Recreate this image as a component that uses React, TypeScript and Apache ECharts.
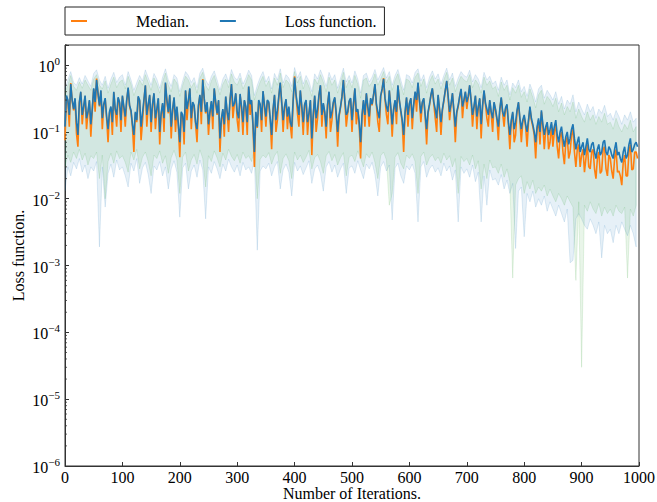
import React, { useEffect, useRef } from 'react';
import * as echarts from 'echarts';

// iteration step between stored samples; "Mid" arrays sit half a step later
const STEP = 5;
const MID_OFFSET = 2.5;

// Mean loss function (blue line), at iterations 0, 5, 10, ...
const lossMean = [
  0.12, 0.3, 0.52, 0.22, 0.14, 0.28, 0.18, 0.35, 0.2, 0.13,
  0.45, 0.6, 0.25, 0.16, 0.32, 0.11, 0.24, 0.4, 0.18, 0.28,
  0.35, 0.17, 0.46, 0.21, 0.09, 0.15, 0.3, 0.19, 0.5, 0.26,
  0.14, 0.38, 0.22, 0.1, 0.27, 0.55, 0.2, 0.12, 0.33, 0.24,
  0.07, 0.18, 0.42, 0.3, 0.16, 0.25, 0.11, 0.36, 0.6, 0.2,
  0.13, 0.29, 0.45, 0.19, 0.08, 0.22, 0.34, 0.15, 0.52, 0.27,
  0.2, 0.37, 0.14, 0.24, 0.48, 0.3, 0.05, 0.12, 0.26, 0.41,
  0.17, 0.28, 0.09, 0.36, 0.21, 0.55, 0.15, 0.31, 0.24, 0.12,
  0.65, 0.25, 0.42, 0.14, 0.3, 0.19, 0.08, 0.35, 0.22, 0.5,
  0.27, 0.12, 0.4, 0.2, 0.33, 0.1, 0.24, 0.6, 0.18, 0.29,
  0.15, 0.45, 0.22, 0.07, 0.3, 0.38, 0.17, 0.26, 0.52, 0.2,
  0.35, 0.62, 0.24, 0.42, 0.13, 0.3, 0.5, 0.21, 0.09, 0.33,
  0.27, 0.16, 0.4, 0.55, 0.19, 0.32, 0.11, 0.26, 0.45, 0.22,
  0.36, 0.14, 0.3, 0.58, 0.2, 0.38, 0.12, 0.25, 0.44, 0.3,
  0.28, 0.5, 0.18, 0.35, 0.24, 0.13, 0.42, 0.22, 0.3, 0.16,
  0.22, 0.12, 0.33, 0.17, 0.26, 0.09, 0.2, 0.14, 0.28, 0.11,
  0.18, 0.1, 0.24, 0.13, 0.07, 0.16, 0.21, 0.09, 0.14, 0.11,
  0.09, 0.15, 0.07, 0.12, 0.06, 0.1, 0.08, 0.13, 0.055, 0.085,
  0.06, 0.045, 0.08, 0.05, 0.07, 0.04, 0.065, 0.05, 0.075, 0.045,
  0.055, 0.04, 0.07, 0.05, 0.035, 0.06, 0.045, 0.08, 0.055, 0.07,
];
// Mean loss at iterations 2.5, 7.5, 12.5, ...
const lossMeanMid = [
  0.35, 0.18, 0.3, 0.32, 0.09, 0.4, 0.24, 0.16, 0.3, 0.22,
  0.28, 0.38, 0.42, 0.26, 0.17, 0.2, 0.14, 0.22, 0.33, 0.15,
  0.24, 0.3, 0.25, 0.13, 0.2, 0.34, 0.12, 0.3, 0.18, 0.36,
  0.26, 0.16, 0.32, 0.19, 0.16, 0.3, 0.36, 0.22, 0.15, 0.13,
  0.2, 0.1, 0.22, 0.45, 0.28, 0.14, 0.25, 0.2, 0.32, 0.28,
  0.2, 0.17, 0.28, 0.3, 0.16, 0.13, 0.2, 0.3, 0.24, 0.38,
  0.16, 0.24, 0.3, 0.14, 0.26, 0.13, 0.2, 0.3, 0.15, 0.25,
  0.3, 0.16, 0.22, 0.15, 0.34, 0.28, 0.24, 0.17, 0.14, 0.3,
  0.36, 0.18, 0.24, 0.26, 0.14, 0.3, 0.18, 0.16, 0.36, 0.18,
  0.2, 0.26, 0.16, 0.28, 0.19, 0.18, 0.34, 0.3, 0.2, 0.32,
  0.26, 0.2, 0.14, 0.18, 0.18, 0.24, 0.32, 0.36, 0.26, 0.16,
  0.44, 0.32, 0.2, 0.24, 0.22, 0.2, 0.3, 0.15, 0.2, 0.18,
  0.32, 0.26, 0.3, 0.3, 0.28, 0.18, 0.2, 0.36, 0.28, 0.16,
  0.22, 0.22, 0.42, 0.34, 0.26, 0.21, 0.2, 0.34, 0.24, 0.4,
  0.34, 0.3, 0.24, 0.17, 0.32, 0.25, 0.27, 0.18, 0.2, 0.28,
  0.16, 0.22, 0.2, 0.23, 0.14, 0.15, 0.11, 0.21, 0.16, 0.15,
  0.13, 0.15, 0.16, 0.1, 0.12, 0.1, 0.13, 0.12, 0.09, 0.14,
  0.12, 0.09, 0.1, 0.08, 0.085, 0.065, 0.11, 0.08, 0.07, 0.05,
  0.07, 0.06, 0.055, 0.065, 0.05, 0.055, 0.045, 0.07, 0.05, 0.06,
  0.045, 0.055, 0.045, 0.04, 0.05, 0.04, 0.065, 0.05, 0.065, 0.06,
];

// Median (orange line), at iterations 0, 5, 10, ...
const lossMedian = [
  0.075, 0.29, 0.54, 0.21, 0.095, 0.27, 0.13, 0.34, 0.19, 0.085,
  0.44, 0.63, 0.24, 0.11, 0.31, 0.07, 0.23, 0.39, 0.12, 0.27,
  0.34, 0.12, 0.45, 0.2, 0.05, 0.14, 0.29, 0.14, 0.49, 0.25,
  0.1, 0.37, 0.21, 0.065, 0.26, 0.53, 0.19, 0.08, 0.32, 0.23,
  0.042, 0.17, 0.41, 0.29, 0.11, 0.24, 0.07, 0.35, 0.62, 0.19,
  0.09, 0.28, 0.44, 0.18, 0.05, 0.21, 0.33, 0.1, 0.51, 0.26,
  0.15, 0.36, 0.09, 0.23, 0.47, 0.29, 0.03, 0.115, 0.25, 0.4,
  0.12, 0.27, 0.055, 0.35, 0.15, 0.54, 0.1, 0.3, 0.23, 0.08,
  0.68, 0.19, 0.41, 0.09, 0.29, 0.18, 0.045, 0.34, 0.16, 0.49,
  0.26, 0.08, 0.39, 0.15, 0.32, 0.06, 0.23, 0.59, 0.12, 0.28,
  0.1, 0.44, 0.21, 0.04, 0.29, 0.37, 0.12, 0.25, 0.51, 0.14,
  0.34, 0.64, 0.18, 0.41, 0.085, 0.29, 0.49, 0.2, 0.05, 0.32,
  0.26, 0.11, 0.39, 0.54, 0.14, 0.31, 0.065, 0.25, 0.44, 0.16,
  0.35, 0.09, 0.29, 0.57, 0.15, 0.37, 0.07, 0.24, 0.43, 0.29,
  0.22, 0.49, 0.12, 0.34, 0.23, 0.08, 0.41, 0.16, 0.29, 0.1,
  0.21, 0.075, 0.32, 0.12, 0.25, 0.055, 0.19, 0.09, 0.27, 0.07,
  0.17, 0.06, 0.23, 0.12, 0.04, 0.15, 0.2, 0.055, 0.13, 0.07,
  0.06, 0.13, 0.04, 0.1, 0.033, 0.085, 0.05, 0.11, 0.03, 0.065,
  0.045, 0.025, 0.065, 0.028, 0.055, 0.02, 0.05, 0.026, 0.06, 0.022,
  0.04, 0.02, 0.055, 0.026, 0.016, 0.045, 0.022, 0.065, 0.028, 0.05,
];
// Median at iterations 2.5, 7.5, 12.5, ...
const lossMedianMid = [
  0.34, 0.12, 0.29, 0.31, 0.06, 0.39, 0.23, 0.11, 0.29, 0.21,
  0.2, 0.37, 0.41, 0.25, 0.16, 0.19, 0.09, 0.21, 0.32, 0.1,
  0.23, 0.29, 0.24, 0.12, 0.19, 0.33, 0.075, 0.29, 0.12, 0.35,
  0.25, 0.11, 0.31, 0.18, 0.1, 0.29, 0.35, 0.21, 0.1, 0.12,
  0.19, 0.065, 0.15, 0.44, 0.27, 0.13, 0.24, 0.13, 0.31, 0.27,
  0.19, 0.11, 0.27, 0.29, 0.15, 0.085, 0.19, 0.29, 0.16, 0.37,
  0.1, 0.23, 0.29, 0.09, 0.18, 0.12, 0.19, 0.29, 0.1, 0.24,
  0.29, 0.15, 0.21, 0.1, 0.33, 0.27, 0.23, 0.11, 0.13, 0.29,
  0.35, 0.12, 0.23, 0.25, 0.09, 0.29, 0.17, 0.1, 0.35, 0.12,
  0.19, 0.25, 0.1, 0.27, 0.18, 0.17, 0.33, 0.29, 0.19, 0.31,
  0.25, 0.13, 0.13, 0.17, 0.12, 0.23, 0.31, 0.35, 0.25, 0.1,
  0.43, 0.31, 0.13, 0.23, 0.21, 0.13, 0.29, 0.14, 0.19, 0.12,
  0.31, 0.25, 0.2, 0.29, 0.27, 0.17, 0.19, 0.35, 0.27, 0.1,
  0.21, 0.21, 0.41, 0.33, 0.25, 0.2, 0.19, 0.33, 0.16, 0.39,
  0.33, 0.29, 0.23, 0.11, 0.31, 0.24, 0.26, 0.12, 0.19, 0.27,
  0.15, 0.21, 0.19, 0.22, 0.13, 0.14, 0.07, 0.2, 0.15, 0.14,
  0.12, 0.14, 0.15, 0.09, 0.11, 0.065, 0.12, 0.11, 0.055, 0.13,
  0.1, 0.06, 0.085, 0.05, 0.07, 0.04, 0.09, 0.05, 0.055, 0.03,
  0.055, 0.04, 0.03, 0.05, 0.028, 0.04, 0.024, 0.055, 0.028, 0.045,
  0.026, 0.04, 0.025, 0.022, 0.035, 0.022, 0.05, 0.027, 0.05, 0.04,
];

// Light blue band: upper and lower bounds (iterations 0, 5, 10, ...)
const blueUpper = [
  0.45, 0.6, 0.8, 0.55, 0.5, 0.65, 0.52, 0.7, 0.58, 0.48,
  0.75, 0.85, 0.6, 0.5, 0.68, 0.45, 0.62, 0.78, 0.55, 0.66,
  0.72, 0.5, 0.8, 0.6, 0.42, 0.55, 0.7, 0.58, 0.85, 0.65,
  0.5, 0.75, 0.62, 0.45, 0.66, 0.88, 0.6, 0.48, 0.72, 0.64,
  0.4, 0.58, 0.8, 0.7, 0.55, 0.65, 0.46, 0.76, 0.9, 0.6,
  0.5, 0.68, 0.82, 0.6, 0.42, 0.62, 0.74, 0.55, 0.86, 0.66,
  0.6, 0.76, 0.52, 0.64, 0.84, 0.7, 0.35, 0.5, 0.66, 0.8,
  0.56, 0.68, 0.44, 0.75, 0.6, 0.88, 0.54, 0.72, 0.64, 0.48,
  0.92, 0.64, 0.8, 0.52, 0.7, 0.58, 0.4, 0.74, 0.62, 0.85,
  0.66, 0.48, 0.78, 0.6, 0.72, 0.45, 0.64, 0.9, 0.56, 0.7,
  0.54, 0.82, 0.62, 0.38, 0.7, 0.76, 0.56, 0.66, 0.86, 0.6,
  0.74, 0.92, 0.64, 0.8, 0.5, 0.7, 0.86, 0.6, 0.42, 0.72,
  0.68, 0.54, 0.78, 0.88, 0.58, 0.72, 0.46, 0.66, 0.82, 0.62,
  0.74, 0.52, 0.7, 0.9, 0.6, 0.76, 0.48, 0.64, 0.8, 0.7,
  0.66, 0.84, 0.56, 0.72, 0.62, 0.46, 0.78, 0.6, 0.68, 0.52,
  0.58, 0.42, 0.66, 0.5, 0.6, 0.36, 0.54, 0.46, 0.6, 0.4,
  0.48, 0.34, 0.52, 0.4, 0.28, 0.44, 0.5, 0.32, 0.42, 0.36,
  0.3, 0.4, 0.26, 0.34, 0.22, 0.3, 0.26, 0.36, 0.2, 0.28,
  0.22, 0.18, 0.26, 0.2, 0.24, 0.16, 0.22, 0.19, 0.25, 0.17,
  0.19, 0.15, 0.21, 0.17, 0.13, 0.18, 0.15, 0.2, 0.14, 0.16,
];
const blueLower = [
  0.013, 0.03, 0.022, 0.035, 0.028, 0.04, 0.025, 0.032, 0.02, 0.03,
  0.026, 0.036, 0.0019, 0.03, 0.0075, 0.024, 0.033, 0.021, 0.038, 0.027,
  0.03, 0.022, 0.015, 0.034, 0.026, 0.04, 0.017, 0.029, 0.035, 0.023,
  0.012, 0.031, 0.027, 0.036, 0.022, 0.03, 0.014, 0.028, 0.037, 0.025,
  0.0053, 0.029, 0.034, 0.014, 0.026, 0.032, 0.021, 0.038, 0.027, 0.005,
  0.03, 0.024, 0.036, 0.028, 0.02, 0.033, 0.026, 0.039, 0.03, 0.025,
  0.032, 0.022, 0.035, 0.027, 0.03, 0.024, 0.038, 0.0017, 0.026, 0.031,
  0.028, 0.034, 0.022, 0.03, 0.036, 0.014, 0.027, 0.033, 0.025, 0.011,
  0.035, 0.026, 0.031, 0.023, 0.029, 0.037, 0.017, 0.028, 0.032, 0.024,
  0.013, 0.03, 0.036, 0.025, 0.032, 0.021, 0.028, 0.034, 0.012, 0.029,
  0.031, 0.024, 0.037, 0.027, 0.02, 0.033, 0.028, 0.035, 0.023, 0.011,
  0.03, 0.036, 0.026, 0.032, 0.0048, 0.029, 0.034, 0.022, 0.017, 0.031,
  0.027, 0.033, 0.024, 0.0045, 0.03, 0.036, 0.021, 0.028, 0.032, 0.025,
  0.029, 0.022, 0.034, 0.026, 0.031, 0.019, 0.027, 0.0045, 0.03, 0.024,
  0.028, 0.021, 0.032, 0.018, 0.025, 0.0045, 0.022, 0.008, 0.027, 0.019,
  0.02, 0.016, 0.023, 0.014, 0.019, 0.012, 0.017, 0.0018, 0.013, 0.015,
  0.0027, 0.012, 0.009, 0.013, 0.0075, 0.01, 0.008, 0.011, 0.0065, 0.009,
  0.007, 0.0055, 0.008, 0.006, 0.0045, 0.007, 0.0011, 0.0012, 0.005, 0.006,
  0.005, 0.004, 0.0035, 0.005, 0.004, 0.003, 0.0045, 0.0013, 0.004, 0.003,
  0.0035, 0.0022, 0.004, 0.003, 0.0045, 0.0035, 0.0028, 0.004, 0.003, 0.0019,
];

// Light green band: upper and lower bounds (iterations 0, 5, 10, ...)
const greenUpper = [
  0.4, 0.5, 0.7, 0.48, 0.42, 0.56, 0.45, 0.6, 0.5, 0.42,
  0.62, 0.72, 0.5, 0.44, 0.58, 0.38, 0.52, 0.66, 0.46, 0.56,
  0.6, 0.44, 0.68, 0.52, 0.35, 0.46, 0.6, 0.5, 0.72, 0.55,
  0.42, 0.64, 0.52, 0.38, 0.56, 0.76, 0.5, 0.4, 0.62, 0.54,
  0.34, 0.5, 0.68, 0.6, 0.46, 0.55, 0.38, 0.64, 0.78, 0.5,
  0.42, 0.58, 0.7, 0.5, 0.36, 0.52, 0.62, 0.46, 0.74, 0.56,
  0.5, 0.64, 0.44, 0.54, 0.72, 0.6, 0.3, 0.42, 0.56, 0.68,
  0.48, 0.58, 0.38, 0.64, 0.5, 0.76, 0.46, 0.6, 0.54, 0.4,
  0.8, 0.54, 0.68, 0.44, 0.6, 0.48, 0.34, 0.62, 0.52, 0.72,
  0.56, 0.4, 0.66, 0.5, 0.6, 0.38, 0.54, 0.78, 0.46, 0.6,
  0.46, 0.7, 0.52, 0.32, 0.6, 0.64, 0.48, 0.56, 0.74, 0.5,
  0.62, 0.8, 0.54, 0.68, 0.42, 0.6, 0.74, 0.5, 0.36, 0.62,
  0.58, 0.46, 0.66, 0.76, 0.48, 0.62, 0.38, 0.56, 0.7, 0.52,
  0.62, 0.44, 0.6, 0.78, 0.5, 0.64, 0.4, 0.54, 0.68, 0.6,
  0.56, 0.72, 0.46, 0.6, 0.52, 0.38, 0.66, 0.5, 0.58, 0.44,
  0.48, 0.34, 0.56, 0.42, 0.5, 0.3, 0.46, 0.38, 0.5, 0.33,
  0.4, 0.28, 0.44, 0.33, 0.23, 0.36, 0.42, 0.26, 0.34, 0.3,
  0.24, 0.32, 0.2, 0.27, 0.18, 0.24, 0.2, 0.28, 0.16, 0.22,
  0.17, 0.14, 0.2, 0.15, 0.18, 0.13, 0.17, 0.14, 0.19, 0.13,
  0.14, 0.11, 0.16, 0.12, 0.1, 0.13, 0.11, 0.15, 0.1, 0.12,
];
const greenLower = [
  0.03, 0.045, 0.035, 0.05, 0.04, 0.055, 0.038, 0.048, 0.032, 0.044,
  0.04, 0.05, 0.02, 0.045, 0.01, 0.036, 0.048, 0.034, 0.052, 0.04,
  0.044, 0.035, 0.025, 0.05, 0.038, 0.055, 0.028, 0.042, 0.05, 0.036,
  0.022, 0.045, 0.04, 0.052, 0.034, 0.044, 0.024, 0.041, 0.053, 0.038,
  0.012, 0.042, 0.05, 0.026, 0.038, 0.046, 0.033, 0.054, 0.04, 0.015,
  0.044, 0.036, 0.052, 0.041, 0.03, 0.048, 0.038, 0.055, 0.043, 0.037,
  0.046, 0.034, 0.05, 0.04, 0.044, 0.036, 0.054, 0.01, 0.039, 0.045,
  0.041, 0.049, 0.033, 0.044, 0.051, 0.024, 0.04, 0.047, 0.037, 0.02,
  0.05, 0.038, 0.045, 0.035, 0.042, 0.053, 0.028, 0.041, 0.046, 0.036,
  0.024, 0.044, 0.051, 0.037, 0.046, 0.032, 0.041, 0.049, 0.022, 0.042,
  0.045, 0.036, 0.052, 0.04, 0.03, 0.047, 0.041, 0.05, 0.035, 0.02,
  0.044, 0.05, 0.038, 0.008, 0.012, 0.042, 0.049, 0.034, 0.028, 0.045,
  0.04, 0.047, 0.036, 0.012, 0.043, 0.05, 0.032, 0.041, 0.046, 0.037,
  0.042, 0.034, 0.048, 0.038, 0.044, 0.03, 0.04, 0.012, 0.043, 0.036,
  0.04, 0.032, 0.045, 0.028, 0.037, 0.014, 0.033, 0.02, 0.038, 0.029,
  0.03, 0.024, 0.033, 0.021, 0.028, 0.018, 0.00065, 0.016, 0.02, 0.022,
  0.012, 0.018, 0.014, 0.019, 0.012, 0.015, 0.013, 0.016, 0.011, 0.014,
  0.011, 0.009, 0.012, 0.01, 0.008, 0.011, 0.009, 0.0075, 0.0006, 0.009,
  0.00003, 0.008, 0.0065, 0.009, 0.007, 0.006, 0.0085, 0.0055, 0.0075, 0.006,
  0.007, 0.0055, 0.008, 0.0065, 0.006, 0.0075, 0.00065, 0.007, 0.0055, 0.008,
];

const X_MIN = 0;
const X_MAX = 1000;
const X_INTERVAL = 100;
const Y_MIN = 1e-6;
const Y_MAX = 2;
const Y_MINOR_MULTS = [2, 3, 4, 5, 6, 7, 8, 9];
const Y_DECADES = [-6, -5, -4, -3, -2, -1, 0];

const FONT = '"Liberation Serif", "Times New Roman", "DejaVu Serif", serif';
const AXIS_COLOR = '#333';

// interleave the on-step and half-step samples into [iteration, value] pairs
const mergePairs = (a: number[], mid: number[]) => {
  const out: number[][] = [];
  a.forEach((v, i) => {
    out.push([i * STEP, v]);
    if (mid[i] != null) out.push([i * STEP + MID_OFFSET, mid[i]]);
  });
  return out;
};

const minorTicks: number[][] = [];
Y_DECADES.forEach((d) => {
  Y_MINOR_MULTS.forEach((m) => {
    const v = m * Math.pow(10, d);
    if (v <= Y_MAX) minorTicks.push([X_MIN, v]);
  });
});

// fill_between-like band drawn as one polygon through the axis scales
const bandSeries = (name: string, up: number[], lo: number[], fill: string, stroke: string) => ({
  name, type: 'custom', silent: true, z: 1, clip: true,
  data: up.map((v, i) => [i * STEP, lo[i], v]),
  encode: { x: 0, y: [1, 2] },
  renderItem: (params: any, api: any) => {
    if (params.dataIndex !== 0) return null;
    const pts: number[][] = [];
    for (let i = 0; i < up.length; i++) pts.push(api.coord([i * STEP, up[i]]));
    for (let i = lo.length - 1; i >= 0; i--) pts.push(api.coord([i * STEP, lo[i]]));
    return {
      type: 'polygon',
      shape: { points: pts },
      style: { fill, stroke, lineWidth: 0.7 },
    };
  },
});

export default function App() {
  const ref = useRef<HTMLDivElement>(null);
  useEffect(() => {
    if (!ref.current) return;
    const chart = echarts.init(ref.current, undefined, { renderer: 'svg' });
    chart.setOption({
      animation: false,
      backgroundColor: '#fff',
      grid: {
        left: 65, right: 18, top: 45, bottom: 36,
        show: true, borderColor: AXIS_COLOR, borderWidth: 1,
        outerBoundsMode: 'none',
      },
      legend: {
        left: 65, top: 7,
        padding: [6, 8, 6, 6],
        borderColor: '#222', borderWidth: 1, borderRadius: 0,
        itemGap: 31, itemWidth: 16, itemHeight: 2,
        data: [
          { name: 'Median.', icon: 'rect' },
          { name: 'Loss function.', icon: 'rect' },
        ],
        formatter: (name: string) => `{g|}{t|${name}}`,
        textStyle: {
          fontFamily: FONT, fontSize: 16, color: '#000',
          rich: {
            g: { width: 44 },
            t: { fontFamily: FONT, fontSize: 16, color: '#000' },
          },
        },
      },
      xAxis: {
        type: 'value', min: X_MIN, max: X_MAX, interval: X_INTERVAL,
        name: 'Number of Iterations.', nameLocation: 'middle', nameGap: 19,
        nameMoveOverlap: false,
        nameTextStyle: { fontFamily: FONT, fontSize: 16, color: '#000' },
        axisLine: { show: true, onZero: false, lineStyle: { color: AXIS_COLOR, width: 1 } },
        axisTick: { show: true, inside: true, length: 4, lineStyle: { color: AXIS_COLOR } },
        axisLabel: {
          margin: 3, fontFamily: FONT, fontSize: 16, color: '#000',
          formatter: (v: number) => String(v),
        },
        splitLine: { show: false },
      },
      yAxis: {
        type: 'log', logBase: 10, min: Y_MIN, max: Y_MAX,
        name: 'Loss function.', nameLocation: 'middle', nameGap: 39,
        nameMoveOverlap: false,
        nameTextStyle: { fontFamily: FONT, fontSize: 16, color: '#000' },
        axisLine: { show: true, lineStyle: { color: AXIS_COLOR, width: 1 } },
        axisTick: { show: true, inside: true, length: 4, lineStyle: { color: AXIS_COLOR } },
        axisLabel: {
          margin: 5,
          formatter: (v: number) => {
            const l = Math.log10(v);
            const e = Math.round(l);
            if (Math.abs(l - e) > 1e-6) return '';
            const s = e < 0 ? '\u2212' + Math.abs(e) : String(e);
            return `{b|10}{s|${s}}`;
          },
          rich: {
            b: { fontFamily: FONT, fontSize: 16, lineHeight: 19, color: '#000', verticalAlign: 'bottom' },
            s: { fontFamily: FONT, fontSize: 11, lineHeight: 11, color: '#000', verticalAlign: 'top' },
          },
        },
        splitLine: { show: false },
        minorTick: { show: false },
      },
      series: [
        bandSeries('blueBand', blueUpper, blueLower, 'rgba(31,119,180,0.11)', 'rgba(31,119,180,0.2)'),
        bandSeries('greenBand', greenUpper, greenLower, 'rgba(44,160,44,0.1)', 'rgba(44,160,44,0.18)'),
        {
          name: 'Median.', type: 'line', symbol: 'none', color: '#ff7f0e',
          data: mergePairs(lossMedian, lossMedianMid), lineStyle: { width: 1.6, color: '#ff7f0e' }, z: 2,
        },
        {
          name: 'Loss function.', type: 'line', symbol: 'none', color: '#1f77b4',
          data: mergePairs(lossMean, lossMeanMid), lineStyle: { width: 1.6, color: '#1f77b4' }, z: 3,
        },
        {
          name: 'minorTicks', type: 'custom', silent: true, z: 5,
          data: minorTicks,
          renderItem: (params: any, api: any) => {
            const p = api.coord([api.value(0), api.value(1)]);
            return {
              type: 'line',
              shape: { x1: p[0], y1: p[1], x2: p[0] + 2, y2: p[1] },
              style: { stroke: AXIS_COLOR, lineWidth: 0.8 },
            };
          },
        },
      ],
    });
    return () => chart.dispose();
  }, []);
  return <div ref={ref} style={{ width: 657, height: 502, position: 'absolute', left: 0, top: 0 }} />;
}
